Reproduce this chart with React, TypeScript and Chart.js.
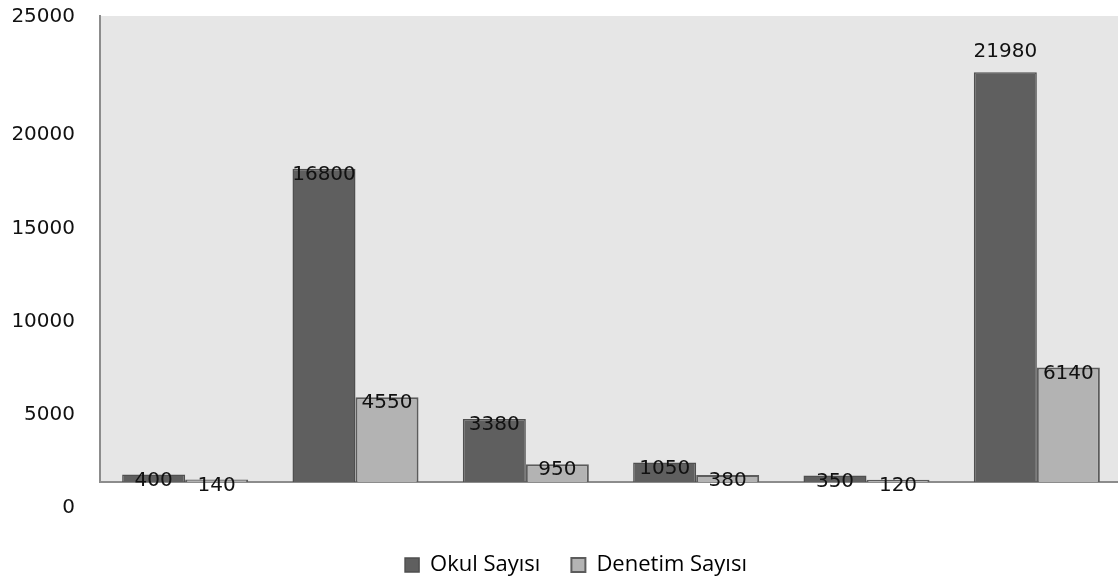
import React, { useEffect, useRef } from "react";
import { Chart, registerables } from "chart.js";

Chart.register(...registerables);

const categories = ["1", "2", "3", "4", "5", "6"];
const okulSayisi = [400, 16800, 3380, 1050, 350, 21980];
const denetimSayisi = [140, 4550, 950, 380, 120, 6140];
const yTickValues = [0, 5000, 10000, 15000, 20000, 25000];
const seriesNames = ["Okul Sayısı", "Denetim Sayısı"];

const NUM_FONT = '"DejaVu Sans", sans-serif';

const bgPlugin = {
  id: "plotBg",
  beforeDraw(chart: any) {
    const { ctx, chartArea } = chart;
    ctx.save();
    ctx.fillStyle = "#e6e6e6";
    ctx.fillRect(chartArea.left, chartArea.top, chartArea.right - chartArea.left, chartArea.bottom - chartArea.top);
    ctx.restore();
  },
};

const labelsPlugin = {
  id: "customLabels",
  afterDraw(chart: any) {
    const { ctx, chartArea } = chart;
    const y = chart.scales.y;
    ctx.save();
    ctx.font = `20px ${NUM_FONT}`;
    ctx.fillStyle = "#111";
    // y tick labels
    ctx.textAlign = "right";
    ctx.textBaseline = "middle";
    const maxV = yTickValues[yTickValues.length - 1];
    yTickValues.forEach((v) => {
      const py = v === maxV ? chartArea.top + 1 : y.getPixelForValue(v) + 26;
      ctx.fillText(String(v), 75, py);
    });
    // data labels
    ctx.textAlign = "center";
    const allMax = Math.max(...okulSayisi, ...denetimSayisi);
    chart.data.datasets.forEach((ds: any, di: number) => {
      const meta = chart.getDatasetMeta(di);
      meta.data.forEach((bar: any, i: number) => {
        const val = ds.data[i];
        const ty = val === allMax ? bar.y - 20 : bar.y + 6;
        ctx.fillText(String(val), bar.x, ty);
      });
    });
    ctx.restore();
  },
};

export default function App() {
  const ref = useRef<HTMLCanvasElement>(null);
  useEffect(() => {
    document.body.style.margin = "0";
    const chart = new Chart(ref.current!, {
      type: "bar",
      data: {
        labels: categories,
        datasets: [
          {
            label: seriesNames[0],
            data: okulSayisi,
            backgroundColor: "#5f5f5f",
            borderColor: "#4f4f4f",
            borderWidth: 1.5,
            categoryPercentage: 0.74,
            barPercentage: 1,
          },
          {
            label: seriesNames[1],
            data: denetimSayisi,
            backgroundColor: "#b3b3b3",
            borderColor: "#5c5c5c",
            borderWidth: 2,
            categoryPercentage: 0.74,
            barPercentage: 1,
          },
        ],
      },
      options: {
        responsive: false,
        animation: false,
        layout: { padding: { left: 30, top: 16, right: 2, bottom: -3 } },
        scales: {
          x: {
            ticks: { display: false },
            grid: { display: false, drawTicks: false },
            border: { display: true, color: "#8c8c8c", width: 2 },
            afterFit: (s: any) => {
              s.height = 41;
            },
          },
          y: {
            min: 0,
            max: 25000,
            ticks: { display: false },
            grid: { display: false, drawTicks: false },
            border: { display: true, color: "#8c8c8c", width: 2 },
            afterFit: (s: any) => {
              s.width = 70;
            },
          },
        },
        plugins: {
          legend: {
            position: "bottom",
            labels: {
              boxWidth: 14,
              boxHeight: 14,
              padding: 31,
              color: "#000",
              font: { family: "'Open Sans', sans-serif", size: 22 },
            },
          },
          tooltip: { enabled: false },
        },
      },
      plugins: [bgPlugin, labelsPlugin],
    });
    return () => chart.destroy();
  }, []);
  return (
    <div style={{ width: 1118, height: 583, overflow: "hidden", position: "relative", background: "#fff" }}>
      <canvas ref={ref} width={1124} height={583} style={{ width: 1124, height: 583, display: "block" }} />
    </div>
  );
}
